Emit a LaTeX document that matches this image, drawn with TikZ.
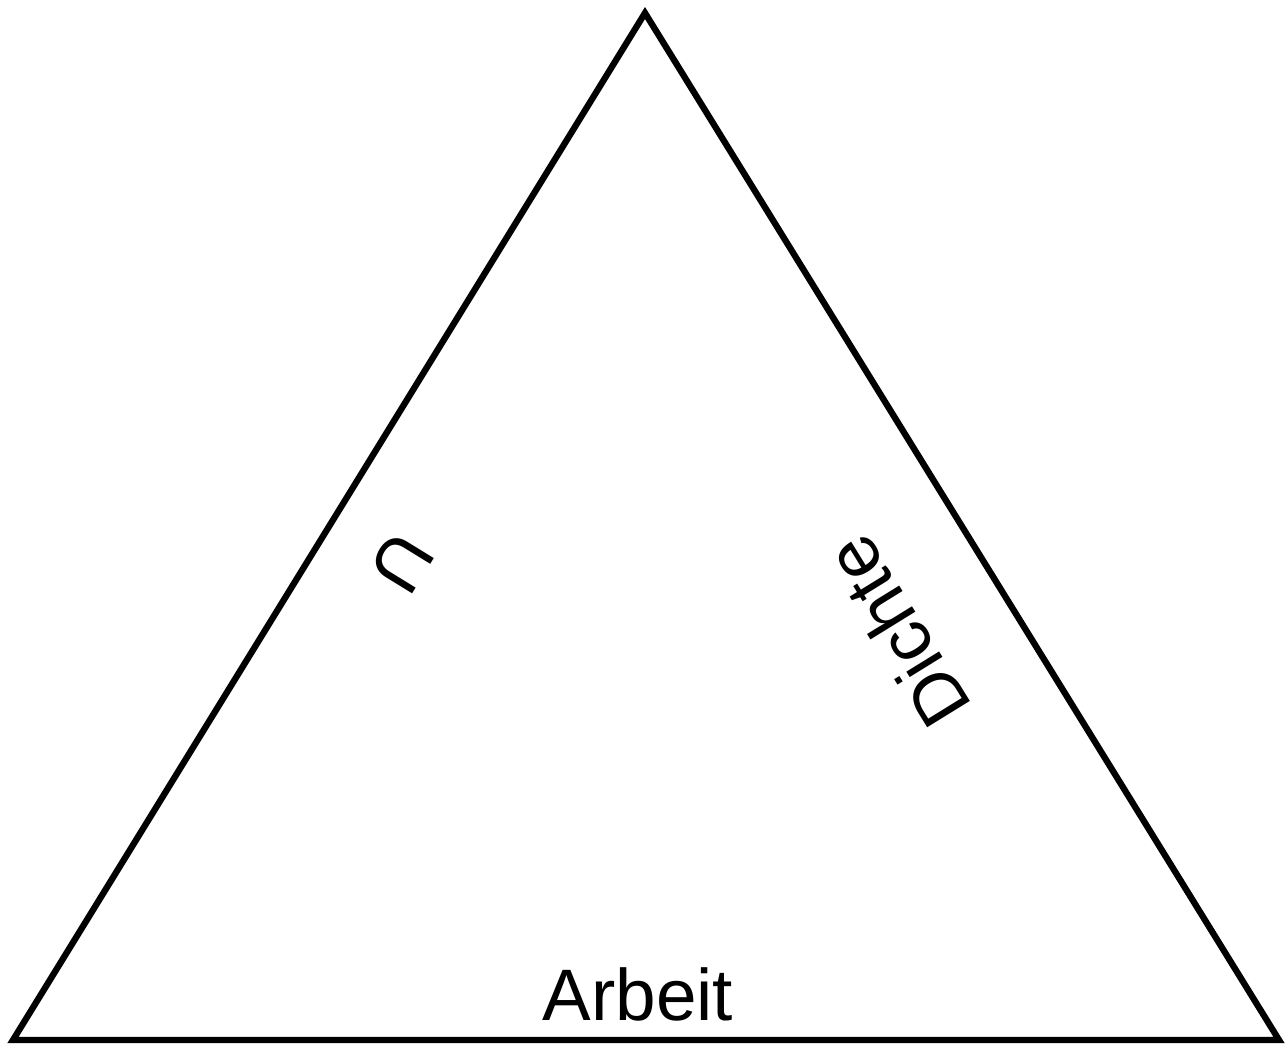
\documentclass[tikz,border=0pt]{standalone}
\usepackage{fontspec}
\setmainfont{Liberation Sans}
\usepackage{tikz}
\usetikzlibrary{positioning,calc}
\tikzset{
  side/.style={draw=black, line width=3.6pt, line join=miter},
  lbl/.style={font=\fontsize{41.5}{50}\selectfont, inner sep=0pt, text=black},
}

\begin{document}
\begin{tikzpicture}[x=0.02cm,y=0.02cm]
\useasboundingbox (0,0) rectangle (1287,1044);
\coordinate (apex) at (645,1031);
\coordinate (bl) at (13,4);
\coordinate (br) at (1279,4);
\draw[side] (apex) -- (bl) -- (br) -- cycle;
\node[lbl, rotate=238.4] (u) at (402,481) {U};
\node[lbl, rotate=121.7] (dichte) at (897,412) {Dichte};
\node[lbl, anchor=base] (arbeit) at (638,24) {Arbeit};
\end{tikzpicture}
\end{document}
